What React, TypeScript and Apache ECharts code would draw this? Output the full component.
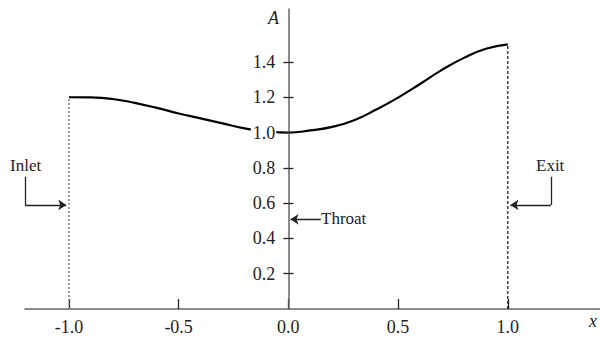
import React, { useEffect, useRef } from "react";
import * as echarts from "echarts";

// Nozzle area distribution A(x)
const xValues = [-1.0, -0.9, -0.8, -0.7, -0.6, -0.5, -0.4, -0.3, -0.2, -0.1, 0.0, 0.1, 0.2, 0.3, 0.4, 0.5, 0.6, 0.7, 0.8, 0.9, 1.0];
const areaValues = [1.2, 1.199, 1.19, 1.168, 1.14, 1.108, 1.08, 1.052, 1.024, 1.007, 1.0, 1.012, 1.032, 1.07, 1.13, 1.198, 1.275, 1.355, 1.423, 1.475, 1.5];

const xTicks = [-1.0, -0.5, 0.0, 0.5, 1.0];
const yTicks = [0.2, 0.4, 0.6, 0.8, 1.0, 1.2, 1.4];

const inletX = -1.0;
const exitX = 1.0;

// Annotation arrows (data coordinates): plain leg + arrow leg
const inletLeg = [[-1.2, 0.75], [-1.2, 0.59]];
const inletArrow = [[-1.2, 0.59], [-1.012, 0.59]];
const exitLeg = [[1.196, 0.75], [1.196, 0.59]];
const exitArrow = [[1.196, 0.59], [1.012, 0.59]];
const throatArrow = [[0.148, 0.508], [0.01, 0.508]];

const X_MIN = -1.2;
const X_MAX = 1.42;
const GRID_LEFT = 25;
const GRID_RIGHT = 0;
const CHART_W = 600;

const FONT = "'Liberation Serif', 'Times New Roman', serif";
const TEXT_COLOR = "#222";

export default function App() {
  const ref = useRef<HTMLDivElement>(null);
  useEffect(() => {
    if (!ref.current) return;
    const chart = echarts.init(ref.current, undefined, { renderer: "svg" });
    const curve = xValues.map((x, i) => [x, areaValues[i]]);
    const inletA = areaValues[0];
    const exitA = areaValues[areaValues.length - 1];
    const gridW = CHART_W - GRID_LEFT - GRID_RIGHT;
    // y axis sits at x = 0
    const yOffset = -((0 - X_MIN) / (X_MAX - X_MIN)) * gridW;
    const arrowStyle = { color: "#222", width: 1.3, opacity: 1 };
    const yAxisBase = {
      type: "value",
      min: 0,
      max: 1.7,
      position: "left",
      offset: yOffset,
      splitLine: { show: false },
    };
    chart.setOption({
      animation: false,
      backgroundColor: "#fff",
      grid: {
        left: GRID_LEFT,
        right: GRID_RIGHT,
        top: 9,
        bottom: 29,
        containLabel: false,
        outerBoundsMode: "none",
      },
      xAxis: {
        type: "value",
        min: X_MIN,
        max: X_MAX,
        splitLine: { show: false },
        axisLine: { onZero: false, lineStyle: { color: "#666", width: 1.5 } },
        axisTick: {
          show: true,
          inside: true,
          length: 10,
          customValues: xTicks,
          lineStyle: { color: "#222", width: 1.3 },
        },
        axisLabel: {
          customValues: xTicks,
          formatter: (v: number) => v.toFixed(1),
          fontFamily: FONT,
          fontSize: 18,
          color: TEXT_COLOR,
          margin: 9,
        },
      },
      yAxis: [
        {
          ...yAxisBase,
          z: 5,
          axisLine: { onZero: false, lineStyle: { color: "#666", width: 1.5 } },
          axisTick: {
            show: true,
            inside: false,
            length: 5,
            customValues: yTicks,
            lineStyle: { color: "#222", width: 1.3 },
          },
          axisLabel: {
            customValues: yTicks,
            formatter: (v: number) => v.toFixed(1),
            fontFamily: FONT,
            fontSize: 18,
            color: TEXT_COLOR,
            margin: 12,
            backgroundColor: "#fff",
            padding: [0, 1, 0, 2],
          },
        },
        {
          ...yAxisBase,
          z: 5,
          axisLine: { show: false, onZero: false },
          axisTick: {
            show: true,
            inside: true,
            length: 5,
            customValues: yTicks,
            lineStyle: { color: "#222", width: 1.3 },
          },
          axisLabel: { show: false },
        },
      ],
      series: [
        {
          type: "line",
          data: curve,
          smooth: true,
          showSymbol: false,
          z: 2,
          lineStyle: { color: "#000", width: 2.2 },
        },
        {
          type: "line",
          data: [[inletX, 0], [inletX, inletA]],
          showSymbol: false,
          z: 1,
          lineStyle: { color: "#888", width: 1.6, type: [2, 2] },
        },
        {
          type: "line",
          data: [[exitX, 0], [exitX, exitA]],
          showSymbol: false,
          z: 1,
          lineStyle: { color: "#111", width: 1.2, type: [3, 2] },
        },
        {
          type: "lines",
          coordinateSystem: "cartesian2d",
          symbol: ["none", "none"],
          lineStyle: arrowStyle,
          data: [{ coords: inletLeg }, { coords: exitLeg }],
        },
        {
          type: "lines",
          coordinateSystem: "cartesian2d",
          symbol: ["none", "arrow"],
          symbolSize: 8,
          lineStyle: arrowStyle,
          data: [{ coords: inletArrow }, { coords: exitArrow }, { coords: throatArrow }],
        },
      ],
      graphic: [
        {
          type: "text",
          left: 10,
          top: 157,
          style: { text: "Inlet", font: `17px ${FONT}`, fill: TEXT_COLOR },
        },
        {
          type: "text",
          left: 536,
          top: 157,
          style: { text: "Exit", font: `17px ${FONT}`, fill: TEXT_COLOR },
        },
        {
          type: "text",
          left: 321,
          top: 210,
          style: { text: "Throat", font: `17px ${FONT}`, fill: TEXT_COLOR },
        },
        {
          type: "text",
          left: 268,
          top: 9,
          style: { text: "A", font: `italic 18px ${FONT}`, fill: TEXT_COLOR },
        },
        {
          type: "text",
          left: 589,
          top: 312,
          style: { text: "x", font: `italic 18px ${FONT}`, fill: TEXT_COLOR },
        },
      ],
    });
    return () => chart.dispose();
  }, []);
  return <div ref={ref} style={{ width: 600, height: 338, position: "absolute", left: 0, top: 0 }} />;
}
